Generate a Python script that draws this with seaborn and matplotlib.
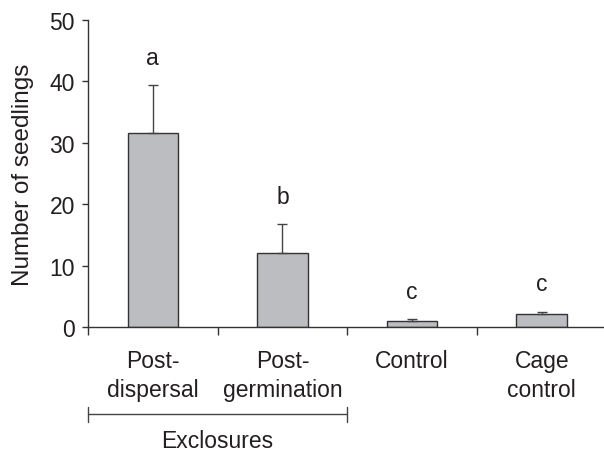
import matplotlib
matplotlib.use("Agg")
import matplotlib.pyplot as plt
import matplotlib.transforms as mtransforms
import seaborn as sns
import pandas as pd
import numpy as np

categories = ["Post-\ndispersal", "Post-\ngermination", "Control", "Cage\ncontrol"]
means = [31.5, 12.0, 0.9, 2.05]
errors = [7.9, 4.7, 0.4, 0.4]
letters = ["a", "b", "c", "c"]
letter_y = [43.9, 21.3, 5.7, 7.0]
group_label = "Exclosures"

sns.set_theme(style="white")
plt.rcParams['font.family'] = ['Liberation Sans', 'DejaVu Sans']
txt = "#231f20"
plt.rcParams['text.color'] = txt
plt.rcParams['axes.labelcolor'] = txt
plt.rcParams['xtick.color'] = txt
plt.rcParams['ytick.color'] = txt

FS = 16.5

df = pd.DataFrame({"cat": categories, "val": means})

fig = plt.figure(figsize=(6.04, 4.52), dpi=100)
ax = fig.add_axes([88/604, 1 - 328/452, 516/604, (328 - 20.7)/452])

sns.barplot(data=df, x="cat", y="val", color="#bcbdc0", edgecolor="#333333",
            linewidth=1.0, width=0.39, ax=ax, saturation=1)
pos = np.arange(len(categories))
ax.errorbar(pos, means, yerr=[np.zeros(len(means)), errors], fmt="none",
            ecolor="#444444", elinewidth=1.0, capsize=3.5, capthick=1.0, zorder=3)

for x, t, y in zip(pos, letters, letter_y):
    ax.text(x, y, t, ha="center", va="center", fontsize=FS, color=txt)

ax.set_ylim(0, 50)
ax.set_xlim(-0.5, 3.48)
ax.set_yticks([0, 10, 20, 30, 40, 50])
ax.tick_params(axis="y", labelsize=FS, length=4.5, width=1, direction="out", pad=5,
               left=True, color="#333333")
ax.set_xticks(pos)
ax.set_xticklabels(categories, fontsize=FS, linespacing=1.3)
ax.tick_params(axis="x", which="major", length=0, pad=16)
ax.set_xticks([-0.5, 0.5, 1.5, 2.5], minor=True)
ax.tick_params(axis="x", which="minor", length=5.5, width=1, direction="out", bottom=True, color="#333333")

ax.set_xlabel("")
ax.set_ylabel("Number of seedlings", fontsize=17.5)
ax.yaxis.set_label_coords(-0.105, 0.5)

for s in ["top", "right"]:
    ax.spines[s].set_visible(False)
for s in ["left", "bottom"]:
    ax.spines[s].set_color("#333333")
    ax.spines[s].set_linewidth(1.0)

# bracket for exclosures group
trans = mtransforms.blended_transform_factory(ax.transData, fig.transFigure)
yb = 1 - 415/452
ax.plot([-0.5, 1.5], [yb, yb], color="#444444", lw=1, transform=trans, clip_on=False)
for xe in [-0.5, 1.5]:
    ax.plot([xe, xe], [yb - 7.5/452, yb + 7.5/452], color="#444444", lw=1, transform=trans, clip_on=False)
ax.text(0.5, 1 - 448/452, group_label, ha="center", va="baseline", fontsize=FS,
        transform=trans, color=txt)

fig.savefig("out.png", dpi=100)
